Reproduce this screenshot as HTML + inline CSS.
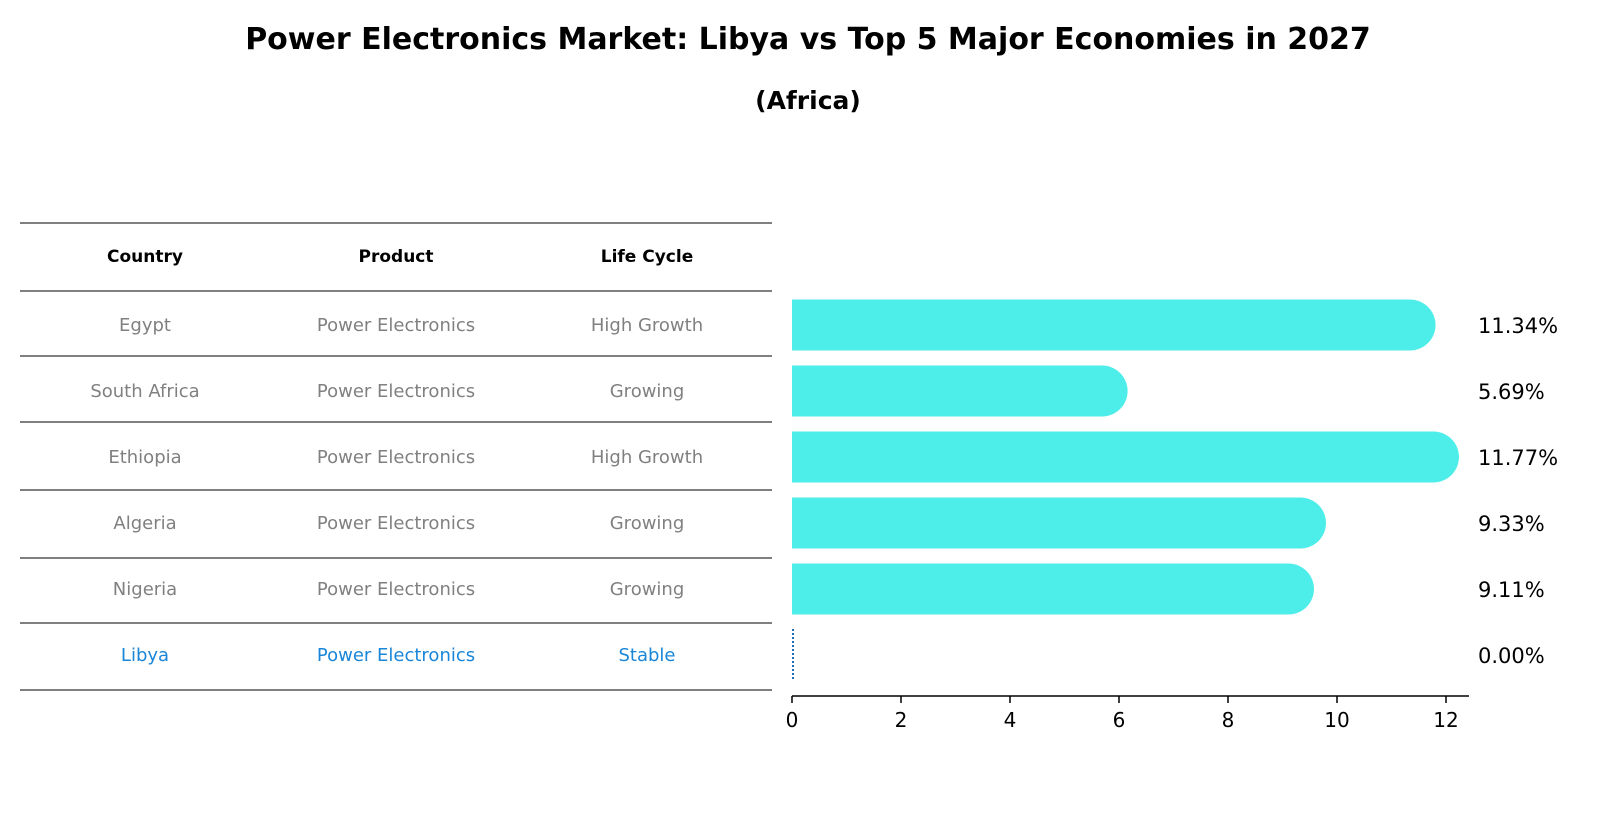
<!DOCTYPE html>
<html><head><meta charset="utf-8"><style>
body{margin:0;background:#fff;font-family:"Liberation Sans","DejaVu Sans",sans-serif;}
</style></head><body>
<svg width="1604" height="823" xmlns="http://www.w3.org/2000/svg" style="font-family:'DejaVu Sans','Liberation Sans',sans-serif">
<text x="808" y="49" text-anchor="middle" font-size="30" font-weight="bold">Power Electronics Market: Libya vs Top 5 Major Economies in 2027</text>
<text x="808" y="109" text-anchor="middle" font-size="25" font-weight="bold">(Africa)</text>
<g id="table"></g>
<g id="bars"></g>
</svg>
<script>
const countries=["Egypt","South Africa","Ethiopia","Algeria","Nigeria","Libya"];
const products=["Power Electronics","Power Electronics","Power Electronics","Power Electronics","Power Electronics","Power Electronics"];
const lifecycles=["High Growth","Growing","High Growth","Growing","Growing","Stable"];
const values=[11.34,5.69,11.77,9.33,9.11,0.00];
const ticks=[0,2,4,6,8,10,12];
const NS="http://www.w3.org/2000/svg";
function mk(t,a,p){const e=document.createElementNS(NS,t);for(const k in a)e.setAttribute(k,a[k]);p.appendChild(e);return e;}
const tb=document.getElementById('table'),bg=document.getElementById('bars');
const lineYs=[223,291,356,422,490,558,623,690];
const colX=[145,396,647];
lineYs.forEach(y=>{const l=mk('line',{x1:20,x2:772,y1:y,y2:y,stroke:'#000','stroke-width':1},tb);

});
["Country","Product","Life Cycle"].forEach((h,i)=>{const t=mk('text',{x:colX[i],y:262,'text-anchor':'middle','font-size':17,'font-weight':'bold'},tb);t.textContent=h;

});
const x0=792,sx=54.5,axY=696;
const xs=v=>x0+v*sx;
const rowY=i=>325+i*66;
countries.forEach((c,i)=>{
 const col=i===5?'#1a86d9':'#808080';
 [c,products[i],lifecycles[i]].forEach((v,j)=>{const t=mk('text',{x:colX[j],y:rowY(i)+6,'text-anchor':'middle','font-size':18,fill:col},tb);t.textContent=v;
 
 });
 const v=values[i];
 if(v>0){const w=xs(v)-x0;const r=25.5;
  const b=mk('rect',{x:x0,y:rowY(i)-25.5,width:w+r,height:51,rx:r,fill:'#4deeea'},bg);
  
  
  mk('rect',{x:x0,y:rowY(i)-25.5,width:r,height:51,fill:'#4deeea'},bg);
 } else {
  const b=mk('line',{x1:x0+1,x2:x0+1,y1:rowY(i)-26,y2:rowY(i)+26,stroke:'#1a6fb5','stroke-width':2,'stroke-dasharray':'2,2'},bg);
  
  
 }
 const t=mk('text',{x:1478,y:rowY(i)+8,'font-size':21},bg);t.textContent=v.toFixed(2)+'%';
 
 
});
const ax=mk('line',{x1:x0,x2:1469,y1:axY,y2:axY,stroke:'#000','stroke-width':1.5},bg);


ticks.forEach(tv=>{mk('line',{x1:xs(tv),x2:xs(tv),y1:axY,y2:axY+7,stroke:'#000','stroke-width':1.5},bg);
 const t=mk('text',{x:xs(tv),y:axY+31,'text-anchor':'middle','font-size':20},bg);t.textContent=tv;
 
 });
</script>
</body></html>
